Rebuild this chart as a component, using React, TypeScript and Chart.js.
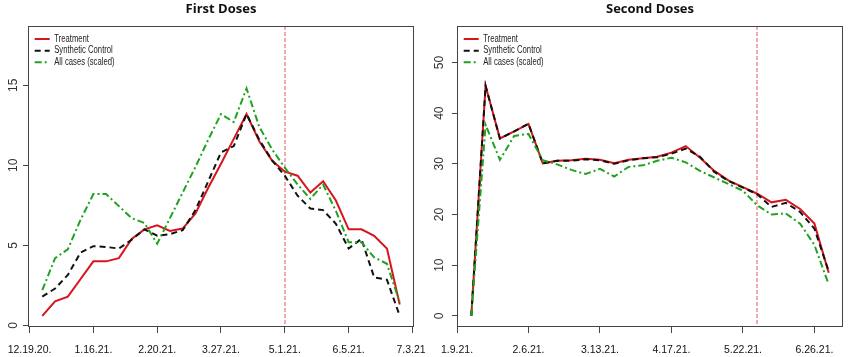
import React, { useEffect, useRef } from "react";
import { Chart, registerables } from "chart.js";

Chart.register(...registerables);

// ---------- data ----------
const firstTickLabels = ["12.19.20.", "1.16.21.", "2.20.21.", "3.27.21.", "5.1.21.", "6.5.21.", "7.3.21."];
const firstTreatment = [0.6, 1.5, 1.8, 2.9, 4.0, 4.0, 4.2, 5.4, 6.0, 6.25, 5.9, 6.05, 7.0, 8.6, 10.1, 11.65, 13.2, 11.5, 10.3, 9.6, 9.35, 8.3, 9.0, 7.8, 6.0, 6.0, 5.6, 4.8, 1.3];
const firstSynthetic = [1.8, 2.3, 3.15, 4.55, 4.95, 4.9, 4.8, 5.35, 6.0, 5.6, 5.7, 5.95, 7.2, 9.0, 10.8, 11.2, 13.2, 11.6, 10.3, 9.35, 8.1, 7.3, 7.2, 6.35, 4.8, 5.4, 3.0, 2.85, 0.6];
const firstAllCases = [2.2, 4.2, 4.75, 6.6, 8.2, 8.2, 7.45, 6.7, 6.4, 5.1, 6.7, 8.3, 9.9, 11.6, 13.2, 12.7, 14.8, 12.4, 11.0, 9.85, 8.8, 7.9, 8.8, 7.15, 5.2, 5.2, 4.25, 3.85, 1.45];
const firstYTicks = [0, 5, 10, 15];
const firstIntervention = 20;

const secondTickLabels = ["1.9.21.", "2.6.21.", "3.13.21.", "4.17.21.", "5.22.21.", "6.26.21."];
const secondTreatment = [0, 45.4, 35.0, 36.4, 37.9, 30.1, 30.6, 30.7, 31.0, 30.8, 30.1, 30.8, 31.1, 31.4, 32.2, 33.5, 31.2, 28.6, 26.7, 25.4, 24.1, 22.4, 22.9, 21.1, 18.2, 8.5];
const secondSynthetic = [0, 45.4, 35.0, 36.4, 37.9, 30.1, 30.6, 30.6, 30.9, 30.7, 30.0, 30.7, 31.1, 31.3, 32.0, 33.0, 31.4, 28.4, 26.6, 25.3, 24.0, 21.5, 22.3, 20.5, 17.2, 8.8];
const secondAllCases = [0, 37.7, 30.8, 35.5, 35.9, 30.7, 29.9, 28.8, 28.0, 29.0, 27.5, 29.4, 29.7, 30.6, 31.2, 30.3, 28.6, 27.3, 26.0, 24.7, 21.8, 20.0, 20.2, 18.2, 14.0, 6.2];
const secondYTicks = [0, 10, 20, 30, 40, 50];
const secondIntervention = 21;

const legendLabels = ["Treatment", "Synthetic Control", "All cases (scaled)"];

// ---------- styles ----------
const RED = "#d8141c";
const BLACK = "#111111";
const GREEN = "#1fa21f";
const AXIS = "#444444";
const VLINE = "rgba(225, 70, 85, 0.7)";
const DASH_BLACK = [6, 4];
const DASH_GREEN = [7, 3, 2, 3];

type PanelCfg = {
  title: string;
  tickLabels: string[];
  treatment: number[];
  synthetic: number[];
  allCases: number[];
  yTicks: number[];
  intervention: number;
  xMin: number;
  xMax: number;
  yMin: number;
  yMax: number;
  yAxisWidth: number;
  rightPad: number;
  yLabelX: number;
};

const toPoints = (arr: number[]) => arr.map((v, i) => ({ x: i + 1, y: v }));

function makePlugin(cfg: PanelCfg) {
  return {
    id: "rbase",
    beforeDatasetsDraw(chart: any) {
      const { ctx, chartArea: a, scales } = chart;
      const x = Math.round(scales.x.getPixelForValue(cfg.intervention));
      ctx.save();
      ctx.strokeStyle = VLINE;
      ctx.lineWidth = 1.3;
      ctx.setLineDash([4, 2]);
      ctx.beginPath();
      ctx.moveTo(x, a.top);
      ctx.lineTo(x, a.bottom);
      ctx.stroke();
      ctx.restore();
    },
    afterDraw(chart: any) {
      const { ctx, chartArea: a, scales } = chart;
      ctx.save();
      // box
      ctx.strokeStyle = AXIS;
      ctx.lineWidth = 1;
      ctx.setLineDash([]);
      ctx.strokeRect(Math.round(a.left) + 0.5, Math.round(a.top) + 0.5, Math.round(a.right - a.left) - 1, Math.round(a.bottom - a.top) - 1);

      // y labels (rotated, R style)
      ctx.fillStyle = "#333";
      ctx.font = "12px 'Liberation Sans', Arial, sans-serif";
      ctx.textAlign = "center";
      ctx.textBaseline = "middle";
      cfg.yTicks.forEach((v) => {
        const py = scales.y.getPixelForValue(v);
        ctx.save();
        ctx.translate(cfg.yLabelX, py);
        ctx.rotate(-Math.PI / 2);
        ctx.fillText(String(v), 0, 0);
        ctx.restore();
      });

      // title
      ctx.fillStyle = "#111";
      ctx.font = "bold 13px 'Open Sans', sans-serif";
      ctx.textAlign = "center";
      ctx.textBaseline = "middle";
      ctx.fillText(cfg.title, (a.left + a.right) / 2, 9);

      // legend
      const lx = a.left + 6.7;
      const rows = [13, 24.7, 36.3];
      const colors = [RED, BLACK, GREEN];
      const dashes = [[], DASH_BLACK, DASH_GREEN];
      legendLabels.forEach((lab, i) => {
        const y = a.top + rows[i];
        ctx.save();
        ctx.strokeStyle = colors[i];
        ctx.lineWidth = 2;
        ctx.setLineDash(dashes[i]);
        ctx.beginPath();
        ctx.moveTo(lx, y);
        ctx.lineTo(lx + 15, y);
        ctx.stroke();
        ctx.restore();
        ctx.save();
        ctx.translate(lx + 19.5, y);
        ctx.scale(0.77, 1);
        ctx.fillStyle = "#222";
        ctx.font = "10px 'Liberation Sans', Arial, sans-serif";
        ctx.textAlign = "left";
        ctx.textBaseline = "middle";
        ctx.fillText(lab, 0, 0);
        ctx.restore();
      });
      ctx.restore();
    },
  };
}

function Panel({ cfg, left }: { cfg: PanelCfg; left: number }) {
  const ref = useRef<HTMLCanvasElement>(null);
  useEffect(() => {
    if (!ref.current) return;
    const chart = new Chart(ref.current, {
      type: "line",
      data: {
        datasets: [
          {
            label: legendLabels[0],
            data: toPoints(cfg.treatment),
            borderColor: RED,
            borderWidth: 2,
            pointRadius: 0,
            tension: 0,
            order: 3,
          },
          {
            label: legendLabels[1],
            data: toPoints(cfg.synthetic),
            borderColor: BLACK,
            borderWidth: 2,
            borderDash: DASH_BLACK,
            pointRadius: 0,
            tension: 0,
            order: 2,
          },
          {
            label: legendLabels[2],
            data: toPoints(cfg.allCases),
            borderColor: GREEN,
            borderWidth: 2,
            borderDash: DASH_GREEN,
            pointRadius: 0,
            tension: 0,
            order: 1,
          },
        ],
      },
      options: {
        animation: false,
        responsive: false,
        events: [],
        layout: { padding: { top: 26, right: cfg.rightPad, left: 0, bottom: 0 } },
        plugins: {
          legend: { display: false },
          tooltip: { enabled: false },
          title: { display: false },
        },
        scales: {
          x: {
            type: "linear",
            min: cfg.xMin,
            max: cfg.xMax,
            afterBuildTicks: (s: any) => {
              s.ticks = cfg.tickLabels.map((_, i) => ({ value: i * 5 }));
            },
            afterFit: (s: any) => {
              s.height = 30;
              s.paddingLeft = 0;
              s.paddingRight = 0;
            },
            grid: {
              display: true,
              drawOnChartArea: false,
              drawTicks: true,
              tickLength: 6,
              color: AXIS,
              lineWidth: 1,
            },
            border: { display: false },
            ticks: {
              autoSkip: false,
              maxRotation: 0,
              minRotation: 0,
              padding: 11,
              color: "#111",
              font: { family: "'Liberation Sans', Arial, sans-serif", size: 10.5 },
              callback: (v: any) => cfg.tickLabels[Math.round(Number(v) / 5)] ?? "",
            },
          },
          y: {
            type: "linear",
            min: cfg.yMin,
            max: cfg.yMax,
            afterBuildTicks: (s: any) => {
              s.ticks = cfg.yTicks.map((v) => ({ value: v }));
            },
            afterFit: (s: any) => {
              s.width = cfg.yAxisWidth;
              s.paddingTop = 0;
              s.paddingBottom = 0;
            },
            grid: {
              display: true,
              drawOnChartArea: false,
              drawTicks: true,
              tickLength: 5,
              color: AXIS,
              lineWidth: 1,
            },
            border: { display: false },
            ticks: { display: false },
          },
        },
      },
      plugins: [makePlugin(cfg)],
    } as any);
    return () => chart.destroy();
  }, [cfg]);
  return (
    <div style={{ position: "absolute", left, top: 0, width: 425, height: 357 }}>
      <canvas ref={ref} width={425} height={357} style={{ display: "block" }} />
    </div>
  );
}

const firstCfg: PanelCfg = {
  title: "First Doses",
  tickLabels: firstTickLabels,
  treatment: firstTreatment,
  synthetic: firstSynthetic,
  allCases: firstAllCases,
  yTicks: firstYTicks,
  intervention: firstIntervention,
  xMin: -0.12,
  xMax: 30.12,
  yMin: -0.1,
  yMax: 18.7,
  yAxisWidth: 28,
  rightPad: 11,
  yLabelX: 14,
};

const secondCfg: PanelCfg = {
  title: "Second Doses",
  tickLabels: secondTickLabels,
  treatment: secondTreatment,
  synthetic: secondSynthetic,
  allCases: secondAllCases,
  yTicks: secondYTicks,
  intervention: secondIntervention,
  xMin: 0,
  xMax: 27,
  yMin: -2.2,
  yMax: 57.2,
  yAxisWidth: 32,
  rightPad: 7,
  yLabelX: 15,
};

export default function App() {
  return (
    <div style={{ position: "absolute", left: 0, top: 0, width: 850, height: 357, background: "#fff", overflow: "hidden" }}>
      <Panel cfg={firstCfg} left={0} />
      <Panel cfg={secondCfg} left={425} />
    </div>
  );
}
